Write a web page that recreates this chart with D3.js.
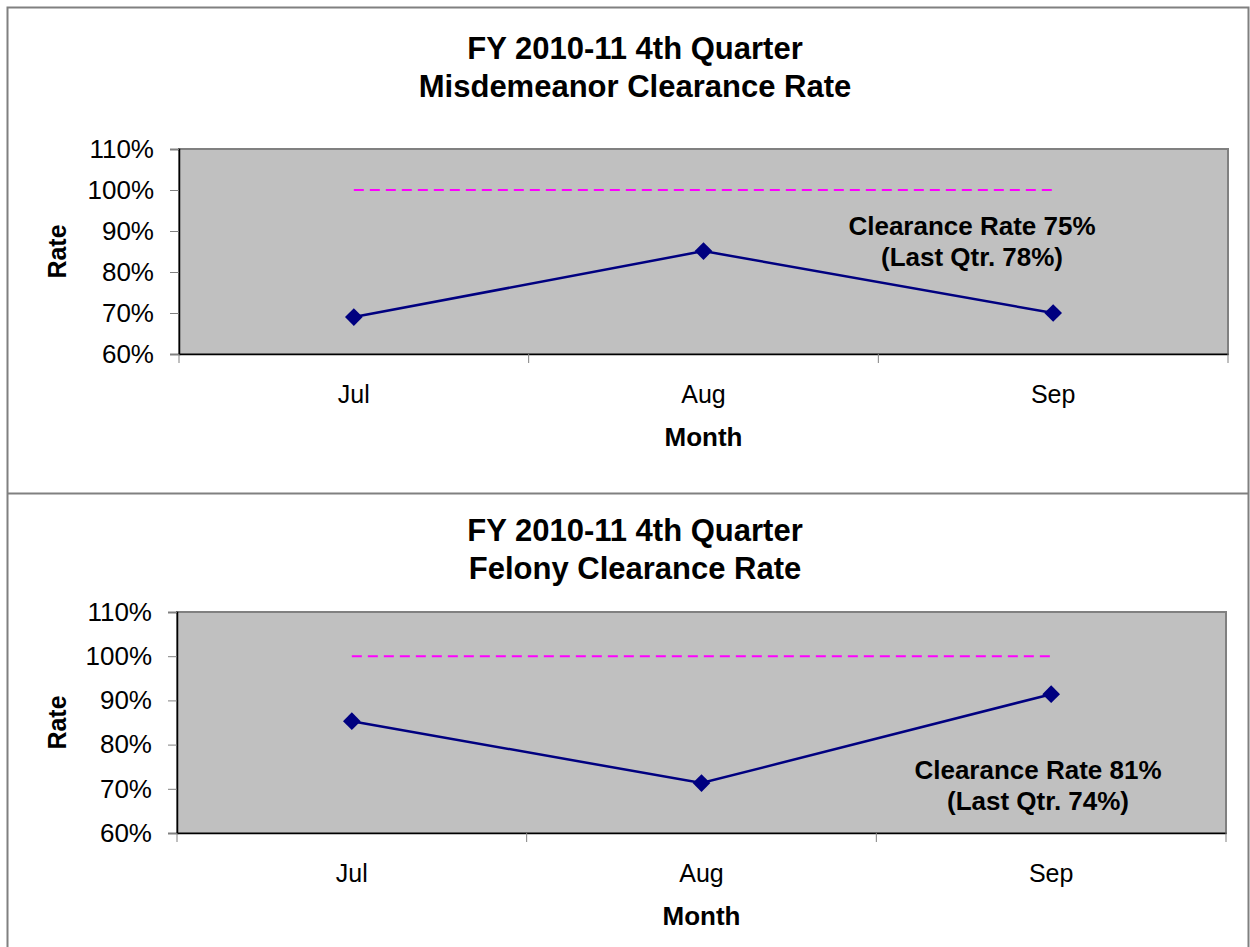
<!DOCTYPE html>
<head>
<meta charset="utf-8">
<style>
    body { margin: 0; background: #fff; }
    svg { display: block; font-family: "Liberation Sans", Arial, sans-serif; }
</style>
<script src="https://d3js.org/d3.v7.min.js"></script>
</head>
<body>
<script>
// chart data
var months = ["Jul", "Aug", "Sep"];
var misdemeanorRate = [69.0, 85.1, 70.0];
var felonyRate = [85.3, 71.3, 91.4];
var targetRate = [100, 100, 100];
var yTicks = [60, 70, 80, 90, 100, 110];
var titleLine1 = "FY 2010-11 4th Quarter";
var misdTitle = "Misdemeanor Clearance Rate";
var felTitle = "Felony Clearance Rate";
var misdNote = ["Clearance Rate 75%", "(Last Qtr. 78%)"];
var felNote = ["Clearance Rate 81%", "(Last Qtr. 74%)"];

var width = 1250, height = 947;

var svg = d3.select("body").append("svg")
    .attr("width", width)
    .attr("height", height);

// outer frame and separator
svg.append("path")
    .attr("d", "M7.5,947V7.5H1248.5V947M7.5,493.5H1248.5")
    .attr("fill", "none")
    .attr("stroke", "#808080")
    .attr("stroke-width", 2);

function drawChart(opt) {
    var x = d3.scaleBand()
        .domain(months)
        .range([opt.left, opt.right]);
    var y = d3.scaleLinear()
        .domain([60, 110])
        .range([opt.bottom, opt.top]);

    var g = svg.append("g");

    // titles
    g.append("text")
        .attr("x", 635).attr("y", opt.titleY)
        .attr("text-anchor", "middle")
        .attr("font-weight", "bold")
        .attr("font-size", 31)
        .text(titleLine1);
    g.append("text")
        .attr("x", 635).attr("y", opt.titleY + 38)
        .attr("text-anchor", "middle")
        .attr("font-weight", "bold")
        .attr("font-size", 31)
        .text(opt.title);

    // plot area
    g.append("rect")
        .attr("x", opt.left).attr("y", opt.top)
        .attr("width", opt.right - opt.left)
        .attr("height", opt.bottom - opt.top)
        .attr("fill", "#c0c0c0")
        .attr("stroke", "#808080")
        .attr("stroke-width", 2);

    // y axis
    var ya = g.append("g")
        .attr("transform", "translate(" + opt.left + ",0)")
        .call(d3.axisLeft(y)
            .tickValues(yTicks)
            .tickSize(9)
            .tickPadding(16)
            .tickFormat(function(d) { return d + "%"; }));
    ya.select(".domain").attr("stroke", "#000").attr("stroke-width", 1.5);
    ya.selectAll("line").attr("stroke", "#808080");
    ya.selectAll("text")
        .attr("font-size", 26)
        .attr("font-family", "Liberation Sans, Arial, sans-serif")
        .attr("fill", "#000");

    // x axis: labels centred in bands, ticks on band edges
    var xa = g.append("g")
        .attr("transform", "translate(0," + opt.bottom + ")")
        .call(d3.axisBottom(x).tickSize(0).tickPadding(31));
    xa.select(".domain").attr("stroke", "#000").attr("stroke-width", 1.5);
    xa.selectAll("text")
        .attr("font-size", 25)
        .attr("font-family", "Liberation Sans, Arial, sans-serif")
        .attr("fill", "#000");
    var edges = months.map(function(m) { return x(m); }).concat([opt.right]);
    g.selectAll(".xedge")
        .data(edges)
        .enter().append("line")
        .attr("x1", function(d) { return d; })
        .attr("x2", function(d) { return d; })
        .attr("y1", opt.bottom)
        .attr("y2", opt.bottom + 9)
        .attr("stroke", "#808080");

    // axis titles
    g.append("text")
        .attr("transform", "translate(" + 66 + "," + ((opt.top + opt.bottom) / 2) + ") rotate(-90)")
        .attr("text-anchor", "middle")
        .attr("font-weight", "bold")
        .attr("font-size", 25)
        .text("Rate");
    g.append("text")
        .attr("x", x("Aug") + x.bandwidth() / 2)
        .attr("y", opt.bottom + 92)
        .attr("text-anchor", "middle")
        .attr("font-weight", "bold")
        .attr("font-size", 26)
        .text("Month");

    var cx = function(d, i) { return x(months[i]) + x.bandwidth() / 2; };

    // 100% target line
    g.append("path")
        .datum(targetRate)
        .attr("fill", "none")
        .attr("stroke", "#ff00ff")
        .attr("stroke-width", 2)
        .attr("stroke-dasharray", "10,6")
        .attr("d", d3.line().x(cx).y(function(d) { return y(d); }));

    // rate series
    g.append("path")
        .datum(opt.values)
        .attr("fill", "none")
        .attr("stroke", "#000080")
        .attr("stroke-width", 2.5)
        .attr("d", d3.line().x(cx).y(function(d) { return y(d); }));

    g.selectAll(".marker")
        .data(opt.values)
        .enter().append("path")
        .attr("transform", function(d, i) { return "translate(" + cx(d, i) + "," + y(d) + ")"; })
        .attr("d", d3.symbol().type(d3.symbolDiamond2).size(200))
        .attr("fill", "#000080");

    // annotation
    g.selectAll(".note")
        .data(opt.note)
        .enter().append("text")
        .attr("x", opt.noteX)
        .attr("y", function(d, i) { return opt.noteY + i * 31; })
        .attr("text-anchor", "middle")
        .attr("font-weight", "bold")
        .attr("font-size", 26)
        .text(function(d) { return d; });
}

drawChart({
    left: 179, right: 1228, top: 149, bottom: 354,
    titleY: 59, title: misdTitle, values: misdemeanorRate,
    note: misdNote, noteX: 972, noteY: 235
});

drawChart({
    left: 177, right: 1226, top: 612, bottom: 833,
    titleY: 541, title: felTitle, values: felonyRate,
    note: felNote, noteX: 1038, noteY: 779
});
</script>
</body>
